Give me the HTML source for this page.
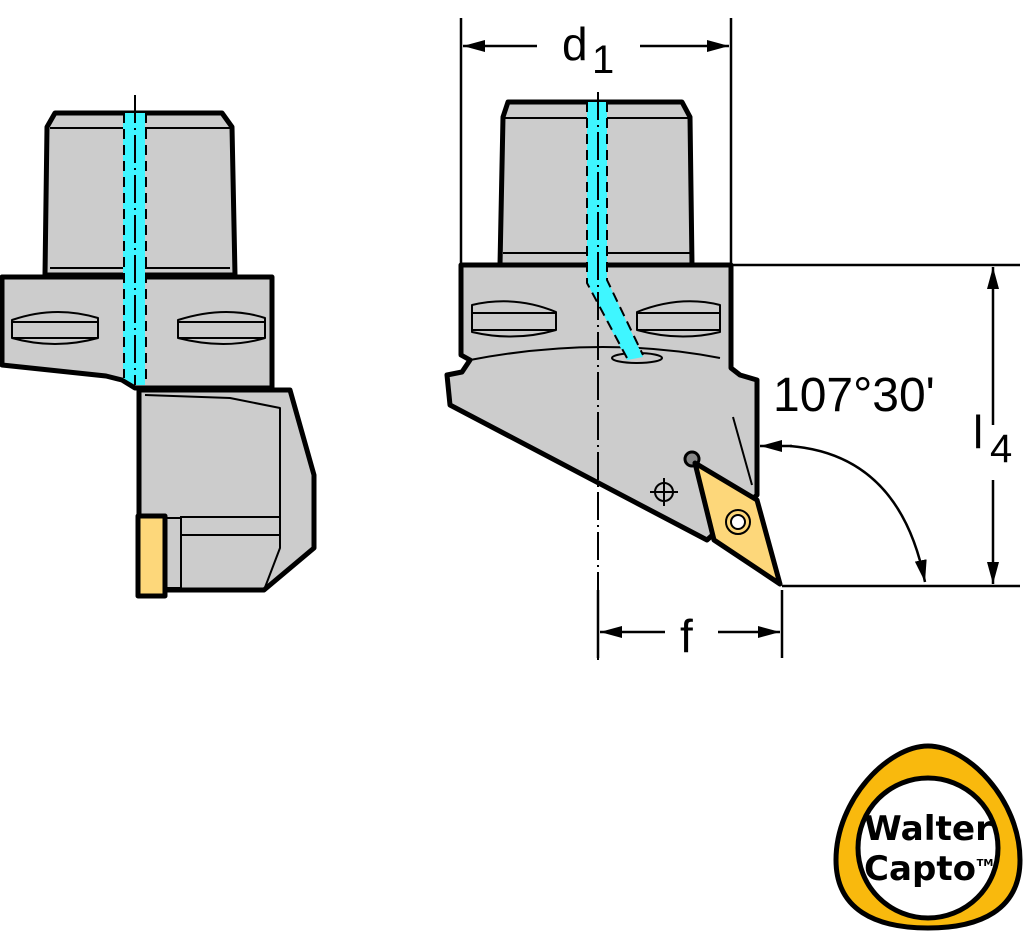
<!DOCTYPE html>
<html><head><meta charset="utf-8"><style>html,body{margin:0;padding:0;background:#fff}svg{display:block}</style></head>
<body>
<svg width="1024" height="935" viewBox="0 0 1024 935" xmlns="http://www.w3.org/2000/svg">
<defs>
<marker id="ar" viewBox="0 0 22 12" refX="22" refY="6" markerWidth="22" markerHeight="12" markerUnits="userSpaceOnUse" orient="auto"><path d="M0,0 L22,6 L0,12 Z" fill="#000"/></marker>
</defs>
<g stroke="#000" stroke-linejoin="round">
<!-- LEFT VIEW -->
<path d="M55,113 L222,113 L232,127 L235,275 L45,275 L47,127 Z" fill="#cccccc" stroke-width="5"/>
<line x1="50" y1="128" x2="230" y2="128" stroke-width="2"/>
<line x1="50" y1="268" x2="230" y2="268" stroke-width="2"/>
<path d="M2,277 L272,277 L272,388 L135,388 L122,380 L106,376 L2,365 Z" fill="#cccccc" stroke-width="5"/>
<path d="M12,320 Q55,305 98,318 L98,338 Q55,350 12,338 Z" fill="#cccccc" stroke-width="2"/>
<line x1="12" y1="322" x2="98" y2="322" stroke-width="2"/><line x1="12" y1="338" x2="98" y2="338" stroke-width="2"/>
<path d="M178,320 Q225,305 265,318 L265,338 Q225,350 178,338 Z" fill="#cccccc" stroke-width="2"/>
<line x1="178" y1="322" x2="265" y2="322" stroke-width="2"/><line x1="178" y1="338" x2="265" y2="338" stroke-width="2"/>
<path d="M139,390 L290,390 L314,475 L314,548 L264,590 L139,590 Z" fill="#cccccc" stroke-width="5"/>
<path d="M145,395 L230,398 L280,408 L280,548 L264,590" fill="none" stroke-width="2"/>
<line x1="180" y1="517" x2="280" y2="517" stroke-width="2"/>
<line x1="180" y1="535" x2="280" y2="535" stroke-width="2"/>
<rect x="165" y="518" width="16" height="70" fill="#cccccc" stroke-width="2"/>
<rect x="138" y="516" width="27" height="80" fill="#fdd77a" stroke-width="5"/>
<path d="M123,113 L145,113 L145,385 L135,385 L123,378 Z" fill="#3ff6ff" stroke="none"/>
<line x1="124" y1="113" x2="124" y2="378" stroke-width="2" stroke-dasharray="10,6"/>
<line x1="146" y1="113" x2="146" y2="385" stroke-width="2" stroke-dasharray="10,6"/>
<line x1="135" y1="95" x2="135" y2="385" stroke-width="2" stroke-dasharray="28,5,2,5"/>

<!-- RIGHT VIEW -->
<path d="M508,102 L682,102 L690,117 L692,265 L500,265 L503,117 Z" fill="#cccccc" stroke-width="5"/>
<line x1="503" y1="118" x2="690" y2="118" stroke-width="2"/>
<line x1="503" y1="253" x2="690" y2="253" stroke-width="2"/>
<path d="M461,265 L731,265 L731,368 L740,375 L757,380 L757,495 L707,540 L450,405 L447,375 L462,372 L470,360 L461,355 Z" fill="#cccccc" stroke-width="5"/>
<path d="M470,360 Q600,335 720,358" fill="none" stroke-width="2"/>
<path d="M472,305 Q515,295 556,312 L556,330 Q515,342 472,332 Z" fill="#cccccc" stroke-width="2"/>
<line x1="472" y1="313" x2="556" y2="313" stroke-width="2"/><line x1="472" y1="330" x2="556" y2="330" stroke-width="2"/>
<path d="M637,312 Q680,295 720,305 L720,332 Q680,342 637,330 Z" fill="#cccccc" stroke-width="2"/>
<line x1="637" y1="313" x2="720" y2="313" stroke-width="2"/><line x1="637" y1="330" x2="720" y2="330" stroke-width="2"/>
<ellipse cx="637" cy="358" rx="25" ry="5" fill="none" stroke-width="2"/>
<path d="M587,102 L607,102 L607,280 L643,357 L627,360 L587,283 Z" fill="#3ff6ff" stroke="none"/>
<path d="M587,102 L587,283 L627,358" fill="none" stroke-width="2" stroke-dasharray="10,6"/>
<path d="M607,102 L607,280 L643,355" fill="none" stroke-width="2" stroke-dasharray="10,6"/>
<line x1="598" y1="92" x2="598" y2="660" stroke-width="2" stroke-dasharray="28,5,2,5"/>
<line x1="733" y1="417" x2="752" y2="485" stroke-width="2"/>
<circle cx="664" cy="492" r="9" fill="none" stroke-width="2"/>
<line x1="650" y1="492" x2="678" y2="492" stroke-width="2"/><line x1="664" y1="478" x2="664" y2="506" stroke-width="2"/>
<circle cx="692" cy="459" r="7" fill="#888" stroke-width="3"/>
<path d="M695,463 L757,500 L780,584 L714,540 Z" fill="#fdd77a" stroke-width="5"/>
<circle cx="738" cy="522" r="12" fill="none" stroke-width="2"/>
<circle cx="738" cy="522" r="7" fill="#fff" stroke-width="2"/>

<!-- DIMENSIONS -->
<g stroke-width="2.5" fill="none">
<line x1="461" y1="18" x2="461" y2="265"/>
<line x1="731" y1="18" x2="731" y2="265"/>
<line x1="537" y1="46" x2="463" y2="46" marker-end="url(#ar)"/>
<line x1="640" y1="46" x2="729" y2="46" marker-end="url(#ar)"/>
<line x1="731" y1="265" x2="1020" y2="265"/>
<line x1="782" y1="586" x2="1020" y2="586"/>
<line x1="993" y1="425" x2="993" y2="267" marker-end="url(#ar)"/>
<line x1="993" y1="480" x2="993" y2="584" marker-end="url(#ar)"/>
<line x1="598" y1="590" x2="598" y2="658"/>
<line x1="782" y1="590" x2="782" y2="658"/>
<line x1="665" y1="632" x2="600" y2="632" marker-end="url(#ar)"/>
<line x1="718" y1="632" x2="780" y2="632" marker-end="url(#ar)"/>
<path d="M790,446 Q900,455 925,582" marker-end="url(#ar)"/>
<line x1="792" y1="446" x2="760" y2="446" marker-end="url(#ar)"/>
</g>
</g>
<g font-family="Liberation Sans, sans-serif" fill="#000">
<text x="562" y="60" font-size="46">d</text><text x="592" y="73" font-size="40">1</text>
<text x="773" y="411" font-size="48">107°30'</text>
<text x="973" y="448" font-size="46">l</text><text x="990" y="462" font-size="40">4</text>
<text x="680" y="652" font-size="46">f</text>
</g>
<!-- LOGO -->
<path d="M928,746 C968,746 1020,800 1020,860 C1020,910 980,928 928,928 C876,928 836,910 836,860 C836,800 888,746 928,746 Z" fill="#f9b90d" stroke="#000" stroke-width="5"/>
<circle cx="928" cy="848" r="70" fill="#fff" stroke="#000" stroke-width="5"/>
<g font-family="DejaVu Sans, sans-serif" font-weight="bold" fill="#000" text-anchor="middle">
<text x="928" y="840" font-size="34" textLength="128" lengthAdjust="spacingAndGlyphs">Walter</text>
<text x="920" y="880" font-size="34" textLength="112" lengthAdjust="spacingAndGlyphs">Capto</text>
<text x="985" y="866" font-size="10">TM</text>
</g>
</svg>
</body></html>
